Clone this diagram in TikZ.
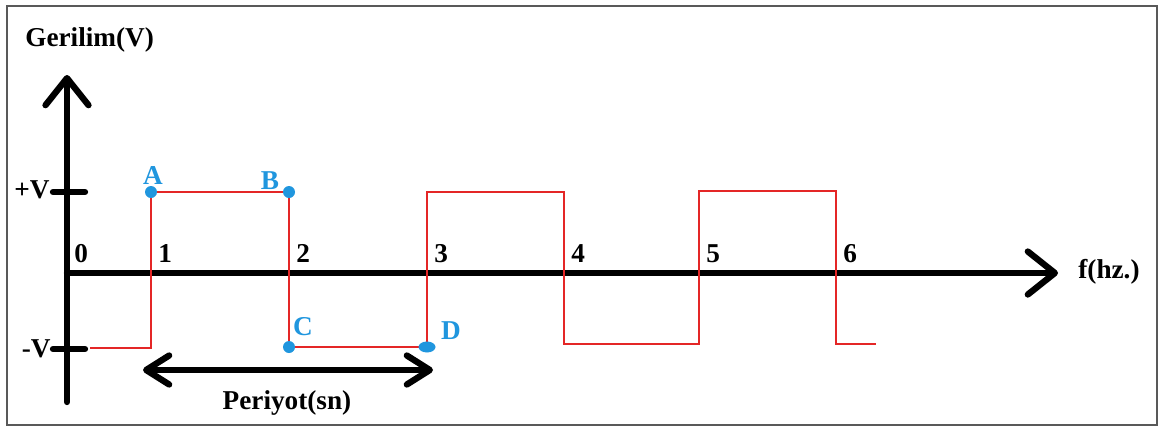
\documentclass[tikz,border=0pt]{standalone}
\usepackage{fontspec}
\setmainfont{Liberation Serif}
\usetikzlibrary{arrows.meta,shapes.geometric}
\definecolor{wavered}{RGB}{228,38,38}
\definecolor{dotblue}{RGB}{32,150,222}
\begin{document}
\begin{tikzpicture}[x=0.02cm,y=-0.02cm,
    axis/.style={line width=3.6pt,line cap=round,-{Straight Barb[round,length=5.4mm,width=8.6mm]}},
    span/.style={line width=3.6pt,line cap=round,{Straight Barb[round,length=4.6mm,width=5.8mm]}-{Straight Barb[round,length=4.6mm,width=5.8mm]}},
    tick/.style={line width=3.6pt,line cap=round},
    wave/.style={wavered,line width=1.5pt},
    lbl/.style={font=\fontsize{15.5}{18}\selectfont\bfseries,inner sep=0pt},
    ptlbl/.style={lbl,text=dotblue},
    dot/.style={circle,fill=dotblue,inner sep=0pt,minimum size=0.24cm}]
  \useasboundingbox (0,0) rectangle (1163,430);
  \draw[gray!70!black,line width=1pt] (7,6) rectangle (1157,425);
  % axes
  \coordinate (O) at (67,273);
  \coordinate (ytop) at (67,75);
  \coordinate (ybot) at (67,402);
  \coordinate (xend) at (1058,273);
  \draw[axis] (ybot) -- (ytop);
  \draw[axis] (O) -- (xend);
  \node[lbl,anchor=west] (ylab) at (25,40) {Gerilim(V)};
  \node[lbl,anchor=west] (xlab) at (1078,272) {f(hz.)};
  % ticks
  \coordinate (hp1) at (53,192); \coordinate (hp2) at (85,192);
  \coordinate (lp1) at (53,349); \coordinate (lp2) at (85,349);
  \draw[tick] (hp1) -- (hp2);
  \draw[tick] (lp1) -- (lp2);
  \node[lbl,anchor=east] (plusV) at (50,190) {+V};
  \node[lbl,anchor=east] (minusV) at (51,349) {-V};
  % axis numbers
  \foreach \x [count=\i from 0] in {67,151,289,427,564,699,836}
    \node[lbl,anchor=base west] (t\i) at (\x+7,262) {\i};
  % square wave
  \coordinate (w0) at (90,348);
  \coordinate (w1) at (151,348);
  \coordinate (A) at (151,192);
  \coordinate (B) at (289,192);
  \coordinate (C) at (289,347);
  \coordinate (D) at (427,347);
  \coordinate (w6) at (427,192);
  \coordinate (w7) at (564,192);
  \coordinate (w8) at (564,344);
  \coordinate (w9) at (699,344);
  \coordinate (w10) at (699,191);
  \coordinate (w11) at (836,191);
  \coordinate (w12) at (836,344);
  \coordinate (w13) at (876,344);
  \draw[wave] (w0) -- (w1) -- (A) -- (B) -- (C) -- (D) -- (w6) -- (w7)
    -- (w8) -- (w9) -- (w10) -- (w11) -- (w12) -- (w13);
  % points
  \node[dot] (dA) at (A) {};
  \node[dot] (dB) at (B) {};
  \node[dot] (dC) at (C) {};
  \node[dot,ellipse,minimum width=0.34cm,minimum height=0.22cm] (dD) at (D) {};
  \node[ptlbl] (lA) at (153,176) {A};
  \node[ptlbl] (lB) at (270,181) {B};
  \node[ptlbl] (lC) at (303,327) {C};
  \node[ptlbl] (lD) at (451,331) {D};
  % period
  \coordinate (pl) at (143,370);
  \coordinate (pr) at (433,370);
  \draw[span] (pl) -- (pr);
  \node[lbl] (per) at (287,403) {Periyot(sn)};
\end{tikzpicture}
\end{document}
